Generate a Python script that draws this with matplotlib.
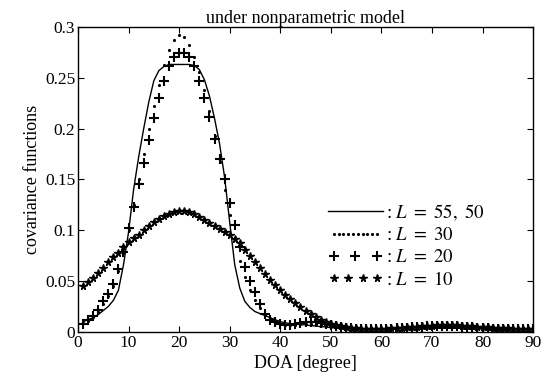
import numpy as np
import matplotlib
matplotlib.use("Agg")
import matplotlib.pyplot as plt
from matplotlib.legend_handler import HandlerLine2D

# =========================
# DATA
# =========================
doa = list(range(1, 91))

# L = 55, 50 (solid line)
cov_55 = [
    0.010, 0.012, 0.014, 0.017, 0.021, 0.025, 0.031, 0.041, 0.066, 0.098,
    0.140, 0.172, 0.200, 0.226, 0.247, 0.257, 0.261, 0.263, 0.263, 0.263,
    0.263, 0.263, 0.262, 0.258, 0.248, 0.232, 0.210, 0.185, 0.152, 0.108,
    0.066, 0.043, 0.030, 0.024, 0.020, 0.018, 0.016, 0.014, 0.012, 0.010,
    0.009, 0.008, 0.008, 0.007, 0.007, 0.006, 0.006, 0.005, 0.005, 0.004,
    0.004, 0.004, 0.003, 0.003, 0.003, 0.002, 0.002, 0.002, 0.002, 0.002,
    0.002, 0.002, 0.003, 0.003, 0.003, 0.003, 0.004, 0.004, 0.004, 0.004,
    0.004, 0.004, 0.004, 0.004, 0.004, 0.004, 0.004, 0.003, 0.003, 0.003,
    0.003, 0.002, 0.002, 0.002, 0.002, 0.002, 0.002, 0.002, 0.002, 0.002,
]

# L = 30 (dots)
cov_30 = [
    0.009, 0.011, 0.015, 0.020, 0.027, 0.035, 0.045, 0.060, 0.078, 0.100,
    0.125, 0.150, 0.175, 0.200, 0.222, 0.243, 0.262, 0.277, 0.287, 0.292,
    0.290, 0.282, 0.270, 0.256, 0.238, 0.217, 0.193, 0.167, 0.140, 0.115,
    0.092, 0.070, 0.054, 0.041, 0.031, 0.023, 0.017, 0.013, 0.010, 0.008,
    0.007, 0.007, 0.007, 0.008, 0.008, 0.008, 0.008, 0.007, 0.006, 0.006,
    0.005, 0.004, 0.004, 0.003, 0.003, 0.003, 0.003, 0.003, 0.003, 0.003,
    0.003, 0.003, 0.003, 0.004, 0.004, 0.004, 0.005, 0.005, 0.005, 0.005,
    0.005, 0.005, 0.005, 0.005, 0.005, 0.005, 0.004, 0.004, 0.004, 0.004,
    0.003, 0.003, 0.003, 0.003, 0.003, 0.003, 0.003, 0.002, 0.002, 0.002,
]

# L = 20 (+ markers)
cov_20 = [
    0.008, 0.012, 0.016, 0.022, 0.030, 0.037, 0.047, 0.062, 0.079, 0.102,
    0.123, 0.145, 0.166, 0.189, 0.210, 0.230, 0.247, 0.261, 0.270, 0.274,
    0.274, 0.270, 0.261, 0.247, 0.230, 0.211, 0.190, 0.170, 0.150, 0.127,
    0.105, 0.083, 0.064, 0.050, 0.039, 0.027, 0.018, 0.012, 0.0095, 0.008,
    0.007, 0.007, 0.008, 0.009, 0.010, 0.010, 0.010, 0.009, 0.008, 0.007,
    0.006, 0.005, 0.004, 0.004, 0.003, 0.003, 0.003, 0.003, 0.003, 0.003,
    0.003, 0.003, 0.004, 0.004, 0.004, 0.005, 0.005, 0.005, 0.006, 0.006,
    0.006, 0.006, 0.006, 0.006, 0.006, 0.005, 0.005, 0.005, 0.004, 0.004,
    0.004, 0.003, 0.003, 0.003, 0.003, 0.003, 0.003, 0.003, 0.003, 0.003,
]

# L = 10 (* markers)
cov_10 = [
    0.045, 0.049, 0.053, 0.058, 0.063, 0.069, 0.074, 0.078, 0.083, 0.088,
    0.092, 0.095, 0.100, 0.104, 0.108, 0.111, 0.114, 0.116, 0.118, 0.119,
    0.119, 0.118, 0.116, 0.113, 0.110, 0.107, 0.104, 0.101, 0.098, 0.095,
    0.091, 0.087, 0.081, 0.075, 0.069, 0.063, 0.057, 0.051, 0.046, 0.041,
    0.036, 0.032, 0.028, 0.024, 0.021, 0.018, 0.015, 0.012, 0.010, 0.008,
    0.007, 0.006, 0.005, 0.004, 0.004, 0.003, 0.003, 0.003, 0.003, 0.003,
    0.003, 0.004, 0.004, 0.004, 0.005, 0.005, 0.005, 0.006, 0.006, 0.006,
    0.007, 0.007, 0.007, 0.007, 0.007, 0.006, 0.006, 0.006, 0.005, 0.005,
    0.005, 0.004, 0.004, 0.004, 0.004, 0.003, 0.003, 0.003, 0.003, 0.003,
]

x_ticks = [0, 10, 20, 30, 40, 50, 60, 70, 80, 90]
y_ticks = [0, 0.05, 0.1, 0.15, 0.2, 0.25, 0.3]
y_tick_labels = ["0", "0.05", "0.1", "0.15", "0.2", "0.25", "0.3"]

legend_labels = [
    r": $L\ =\ 55,\ 50$",
    r": $L\ =\ 30$",
    r": $L\ =\ 20$",
    r": $L\ =\ 10$",
]

# =========================
# STYLE
# =========================
plt.rcParams["font.family"] = ["Liberation Serif", "DejaVu Serif"]
plt.rcParams["mathtext.fontset"] = "stix"

fig = plt.figure(figsize=(5.53, 3.78), dpi=100)
ax = fig.add_axes([0.141, 0.122, 0.823, 0.807])

# =========================
# PLOT
# =========================
h55, = ax.plot(doa, cov_55, color="black", linewidth=1.0)
h30, = ax.plot(doa, cov_30, linestyle="None", marker=".", markersize=2.5,
               color="black")
h20, = ax.plot(doa, cov_20, linestyle="None", marker="+", markersize=7.5,
               markeredgewidth=1.5, color="black")
h10, = ax.plot(doa, cov_10, linestyle="None", marker="*", markersize=5.5,
               color="black")

ax.set_xlim(0, 90)
ax.set_ylim(0, 0.3)
ax.set_xticks(x_ticks)
ax.set_yticks(y_ticks)
ax.set_yticklabels(y_tick_labels)
ax.tick_params(direction="in", top=True, right=True, length=4,
               labelsize=12.5, pad=2)
for s in ax.spines.values():
    s.set_linewidth(1.0)

ax.set_title("under nonparametric model", fontsize=13, pad=3)
ax.set_xlabel("DOA [degree]", fontsize=13, labelpad=3)
ax.set_ylabel("covariance functions", fontsize=13, labelpad=3)

# =========================
# LEGEND (text style, no frame)
# =========================
leg = ax.legend(
    [h55, h30, h20, h10],
    legend_labels,
    handler_map={
        h30: HandlerLine2D(numpoints=10),
        h20: HandlerLine2D(numpoints=3),
        h10: HandlerLine2D(numpoints=4),
    },
    loc="upper left",
    bbox_to_anchor=(0.55, 0.425),
    frameon=False,
    fontsize=13.5,
    handlelength=2.9,
    handletextpad=0.2,
    labelspacing=0.25,
    borderpad=0,
    borderaxespad=0,
)

fig.savefig("out.png", dpi=100)
